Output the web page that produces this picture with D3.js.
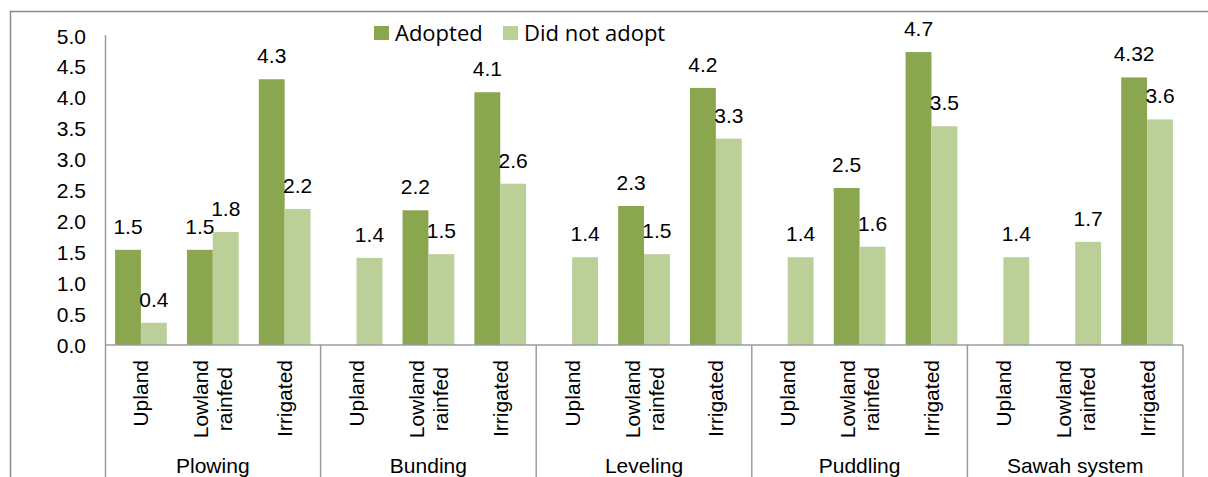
<!DOCTYPE html>
<html>
<head>
<meta charset="utf-8">
<script src="https://cdn.jsdelivr.net/npm/d3@7"></script>
<style>
  body { margin: 0; background: #fff; }
  svg { display: block; }
</style>
</head>
<body>
<svg id="chart"></svg>
<script>
const groups = ["Plowing", "Bunding", "Leveling", "Puddling", "Sawah system"];
const zones = ["Upland", "Lowland rainfed", "Irrigated"];
const seriesNames = ["Adopted", "Did not adopt"];

// one value per group x zone, in order
const adopted = [1.54, 1.54, 4.30, null, 2.18, 4.09, null, 2.25, 4.16, null, 2.54, 4.74, null, null, 4.33];
const adoptedLabels = ["1.5", "1.5", "4.3", null, "2.2", "4.1", null, "2.3", "4.2", null, "2.5", "4.7", null, null, "4.32"];
const notAdopted = [0.36, 1.83, 2.20, 1.41, 1.47, 2.61, 1.42, 1.47, 3.34, 1.42, 1.59, 3.54, 1.42, 1.67, 3.65];
const notAdoptedLabels = ["0.4", "1.8", "2.2", "1.4", "1.5", "2.6", "1.4", "1.5", "3.3", "1.4", "1.6", "3.5", "1.4", "1.7", "3.6"];
const yTicks = [0, 0.5, 1.0, 1.5, 2.0, 2.5, 3.0, 3.5, 4.0, 4.5, 5.0];

const width = 1208;
const height = 477;
const colors = ["#8AA64F", "#BBCF99"];
const lineColor = "#9c9c9c";
const axisFont = "'Liberation Sans', Arial, sans-serif";
const fontSize = 21;

const svg = d3.select("#chart").attr("width", width).attr("height", height);

// outer chart frame (cropped by the picture)
svg.append("path")
    .attr("d", "M10.5," + (height + 5) + "V11.5H" + (width + 5))
    .attr("fill", "none")
    .attr("stroke", "#8c8c8c")
    .attr("stroke-width", 1.5);

const plotLeft = 105, plotRight = 1183, plotTop = 36, plotBottom = 345;

const rows = [];
groups.forEach((g, gi) => zones.forEach((z, zi) => {
    const i = gi * zones.length + zi;
    rows.push({key: g + "|" + z, group: g, zone: z, i: i,
        values: [
            {s: 0, v: adopted[i], label: adoptedLabels[i]},
            {s: 1, v: notAdopted[i], label: notAdoptedLabels[i]}
        ]});
}));

const x = d3.scaleBand().domain(rows.map(d => d.key)).range([plotLeft, plotRight]);
const bw = x.bandwidth();
const xs = d3.scaleBand().domain([0, 1]).range([bw * 0.14, bw * 0.86]);
const y = d3.scaleLinear().domain([0, 5]).range([plotBottom, plotTop]);

// bars
const cat = svg.append("g").selectAll("g")
    .data(rows)
    .enter().append("g")
    .attr("transform", d => "translate(" + x(d.key) + ",0)");

cat.selectAll("rect")
    .data(d => d.values.filter(v => v.v != null))
    .enter().append("rect")
    .attr("x", d => xs(d.s))
    .attr("width", xs.bandwidth())
    .attr("y", d => y(d.v))
    .attr("height", d => y(0) - y(d.v))
    .attr("fill", d => colors[d.s]);

cat.selectAll("text.val")
    .data(d => d.values.filter(v => v.v != null))
    .enter().append("text")
    .attr("class", "val")
    .attr("x", d => xs(d.s) + xs.bandwidth() / 2)
    .attr("y", d => y(d.v) - 16)
    .attr("text-anchor", "middle")
    .attr("font-family", axisFont)
    .attr("font-size", fontSize)
    .attr("fill", "#000")
    .text(d => d.label);

// y axis
svg.append("line")
    .attr("x1", plotLeft + 0.5).attr("x2", plotLeft + 0.5)
    .attr("y1", plotTop - 1).attr("y2", height + 5)
    .attr("stroke", lineColor).attr("stroke-width", 1.5);

svg.append("g").selectAll("text")
    .data(yTicks)
    .enter().append("text")
    .attr("x", 86)
    .attr("y", d => y(d))
    .attr("dy", "0.36em")
    .attr("text-anchor", "end")
    .attr("font-family", axisFont)
    .attr("font-size", fontSize)
    .attr("fill", "#000")
    .text(d => d3.format(".1f")(d));

// x axis and group separators
svg.append("line")
    .attr("x1", plotLeft).attr("x2", plotRight)
    .attr("y1", plotBottom).attr("y2", plotBottom)
    .attr("stroke", lineColor).attr("stroke-width", 1.5);

svg.append("g").selectAll("line")
    .data(d3.range(1, groups.length + 1))
    .enter().append("line")
    .attr("x1", i => x(rows[i * zones.length - 1].key) + bw)
    .attr("x2", i => x(rows[i * zones.length - 1].key) + bw)
    .attr("y1", plotBottom).attr("y2", height + 5)
    .attr("stroke", lineColor).attr("stroke-width", 1.5);

// rotated zone labels
const zoneG = svg.append("g");
rows.forEach(d => {
    const lines = d.zone.split(" ");
    const cx = x(d.key) + bw / 2;
    const step = 24;
    const texts = lines.map(t => zoneG.append("text")
        .attr("text-anchor", "end")
        .attr("dominant-baseline", "central")
        .attr("font-family", axisFont)
        .attr("font-size", fontSize)
        .attr("fill", "#000")
        .text(t));
    const lens = texts.map(t => t.node().getComputedTextLength());
    const maxLen = d3.max(lens);
    texts.forEach((t, li) => {
        const tx = cx + (li - (lines.length - 1) / 2) * step;
        const ty = 360 + (maxLen - lens[li]) / 2;
        t.attr("transform", "translate(" + tx + "," + ty + ") rotate(-90)");
    });
});

// group labels
svg.append("g").selectAll("text")
    .data(groups)
    .enter().append("text")
    .attr("x", (g, gi) => x(rows[gi * zones.length].key) + bw * zones.length / 2)
    .attr("y", 465)
    .attr("dy", "0.36em")
    .attr("text-anchor", "middle")
    .attr("font-family", axisFont)
    .attr("font-size", fontSize)
    .attr("fill", "#000")
    .text(g => g);

// legend
const legendX = [374, 503];
const legend = svg.append("g").selectAll("g")
    .data(seriesNames)
    .enter().append("g")
    .attr("transform", (d, i) => "translate(" + legendX[i] + ",33)");

legend.append("rect")
    .attr("x", 0).attr("y", -7)
    .attr("width", 15).attr("height", 14)
    .attr("fill", (d, i) => colors[i]);

legend.append("text")
    .attr("x", 21)
    .attr("dy", "0.36em")
    .attr("font-family", "'Open Sans', 'Noto Sans', sans-serif")
    .attr("font-size", 22)
    .attr("fill", "#000")
    .text(d => d);
</script>
</body>
</html>
